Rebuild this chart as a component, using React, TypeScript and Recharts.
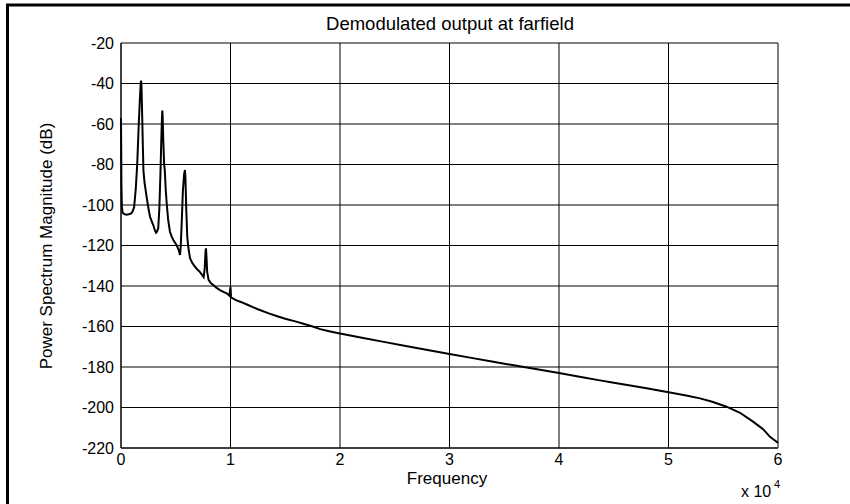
import { LineChart, Line, XAxis, YAxis, CartesianGrid } from "recharts";

// spectrum of the demodulated signal, frequency in Hz and power in dB
const FREQ_HZ = [
  0, 40, 80, 150, 300, 500, 700, 900, 1050, 1200, 1350, 1480, 1600, 1720, 1790,
  1830, 1870, 1930, 2000, 2050, 2150, 2340, 2500, 2650, 2800, 2950, 3100, 3200,
  3280, 3400, 3500, 3600, 3680, 3740, 3770, 3800, 3860, 3940, 4000, 4080, 4170,
  4300, 4470, 4620, 4780, 5080, 5250, 5390, 5450, 5550, 5650, 5770, 5840, 5880,
  5960, 6050, 6150, 6300, 6500, 6760, 7000, 7200, 7400, 7550, 7650, 7720, 7760,
  7800, 7870, 8000, 8200, 8430, 8700, 9040, 9400, 9650, 9900, 9970, 10000,
  10050, 10500, 11000, 11600, 12500, 13500, 14200, 15000, 16000, 16650, 17500,
  18200, 19000, 20000, 22000, 24000, 26000, 28000, 30000, 32000, 34000, 36000,
  38000, 40000, 42000, 43740, 45000, 46780, 48000, 50000, 51500, 52880, 54000,
  55300, 56530, 57750, 58660, 59270, 59900, 60000,
];

const POWER_DB = [
  -57, -90, -101, -103.8, -104.5, -104.8, -104.6, -104.3, -103.3, -101, -92, -80,
  -63, -48, -41, -38.6, -41, -55, -72, -83, -89, -96, -101.5, -105.8, -108, -110,
  -112.5, -113.7, -113.2, -111.5, -102, -85, -68, -57, -53.4, -56, -68, -80, -83,
  -92, -99, -107, -113.2, -115.5, -117.3, -119.8, -122, -124.7, -121, -108, -93,
  -84.5, -82.7, -86, -102, -115.7, -121, -126.2, -128.5, -130.5, -132, -133,
  -134.5, -135.6, -131, -123, -121.4, -125, -133, -137, -138.5, -139.5, -140.8,
  -142, -143, -143.6, -144.8, -141.5, -140.5, -145.6, -147, -148, -149.4, -151.5,
  -153.5, -154.8, -156.2, -157.6, -158.6, -160, -161.3, -162.3, -163.5, -165.6,
  -167.6, -169.6, -171.6, -173.6, -175.5, -177.4, -179.3, -181.1, -183, -184.9,
  -186.6, -187.8, -189.4, -190.5, -192.5, -194, -195.5, -197.2, -199.6, -202.6,
  -207.1, -210.8, -214.5, -217, -217.5,
];

const X_TICKS = [0, 10000, 20000, 30000, 40000, 50000, 60000];
const Y_TICKS = [-220, -200, -180, -160, -140, -120, -100, -80, -60, -40, -20];

const FONT = '"Liberation Sans", Arial, Helvetica, sans-serif';

const data = FREQ_HZ.map((f, i) => ({ f, p: POWER_DB[i] }));

const tickStyle = { fill: "#000", fontSize: 16, fontFamily: FONT };

export default function App() {
  return (
    <div
      style={{
        position: "absolute",
        left: 0,
        top: 0,
        width: 850,
        height: 504,
        background: "#fff",
        overflow: "hidden",
      }}
    >
      <LineChart
        width={850}
        height={504}
        data={data}
        margin={{ top: 43, right: 72, bottom: 26, left: 61 }}
      >
        <CartesianGrid stroke="#000" strokeWidth={1} />
        <XAxis
          dataKey="f"
          type="number"
          domain={[0, 60000]}
          ticks={X_TICKS}
          tickFormatter={(v: number) => String(v / 10000)}
          stroke="#000"
          tickLine={false}
          tickSize={0}
          tickMargin={6}
          height={30}
          tick={tickStyle}
          interval={0}
        />
        <YAxis
          type="number"
          domain={[-220, -20]}
          ticks={Y_TICKS}
          stroke="#000"
          tickLine={false}
          tickSize={0}
          tickMargin={7}
          width={60}
          tick={tickStyle}
          interval={0}
        />
        <Line
          dataKey="p"
          type="linear"
          stroke="#000"
          strokeWidth={2}
          dot={false}
          isAnimationActive={false}
        />
      </LineChart>

      <svg
        width={850}
        height={504}
        style={{ position: "absolute", left: 0, top: 0, pointerEvents: "none" }}
        fontFamily={FONT}
      >
        {/* figure frame */}
        <line x1={6} y1={5} x2={850} y2={5} stroke="#000" strokeWidth={3} />
        <line x1={7.5} y1={4} x2={7.5} y2={504} stroke="#000" strokeWidth={3} />

        <text x={450} y={30} textAnchor="middle" fontSize={18.5} fill="#000">
          Demodulated output at farfield
        </text>
        <text
          x={52}
          y={246}
          textAnchor="middle"
          fontSize={17}
          fill="#000"
          transform="rotate(-90 52 246)"
        >
          Power Spectrum Magnitude (dB)
        </text>
        <text x={447} y={484} textAnchor="middle" fontSize={17} fill="#000">
          Frequency
        </text>
        <text x={741} y={497} fontSize={16} fill="#000">
          x 10
        </text>
        <text x={774} y={488} fontSize={11} fill="#000">
          4
        </text>
      </svg>
    </div>
  );
}
